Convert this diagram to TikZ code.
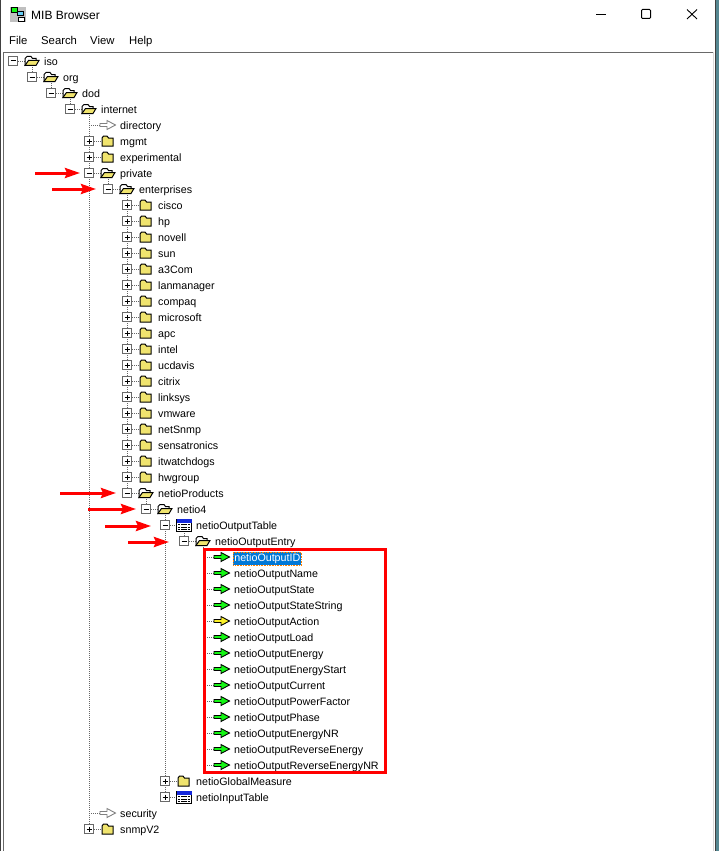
\documentclass[tikz,border=0pt]{standalone}
\usepackage{fontspec}
\setmainfont{Liberation Sans}
\usetikzlibrary{arrows.meta,backgrounds}
\definecolor{folderyellow}{RGB}{240,228,110}
\definecolor{leafgreen}{RGB}{20,245,20}
\definecolor{leafyellow}{RGB}{250,240,40}
\definecolor{selblue}{RGB}{0,120,215}
\definecolor{headblue}{RGB}{20,40,220}
\definecolor{panelgray}{RGB}{105,105,105}
\definecolor{desktop}{RGB}{85,135,145}
\tikzset{
  treeline/.style={black!60,line width=0.9pt,dash pattern=on 1pt off 1pt},
  signbox/.style={draw=panelgray,fill=white,line width=1pt,minimum size=8.5pt,inner sep=0pt},
  lbl/.style={anchor=west,inner xsep=1pt,inner ysep=1pt,text height=8.5pt,text depth=2.5pt,yshift=-1.6pt,font=\fontsize{10.7}{11}\selectfont},
  redarrow/.style={red,line width=3pt,-{Stealth[length=15pt,width=10pt,inset=2pt]}},
  signminus/.pic={\draw[black,line width=1pt] (-2.5,0)--(2.5,0);},
  signplus/.pic={\draw[black,line width=1pt] (-2.5,0)--(2.5,0) (0,-2.5)--(0,2.5);},
  folderclosed/.pic={\draw[black,line width=1pt,fill=folderyellow] (-6,-3)--(-4.5,-5)--(-1,-5)--(0.5,-3)--(5,-3)--(5,5)--(-6,5)--cycle;},
  folderopen/.pic={
    \draw[black,line width=1pt,fill=white] (-7,4.5)--(-7,-2.5)--(-5,-4.5)--(-1,-4.5)--(0.5,-2.5)--(4,-2.5)--(4,0)--cycle;
    \draw[black,line width=1pt,fill=folderyellow] (-7,4.5)--(-3.5,-0.5)--(7,-0.5)--(4,4.5)--cycle;},
  tableicon/.pic={
    \draw[black,line width=1pt,fill=white] (-7.5,-6) rectangle (7.5,6);
    \fill[headblue] (-7.5,-6) rectangle (7.5,-2.5);
    \foreach \gy in {-0.5,2,4.5} {\draw[black,line width=0.9pt,dash pattern=on 2.4pt off 0.8pt] (-6,\gy)--(6.5,\gy);}},
  arrowicon/.pic={\path[pic actions,line width=0.9pt] (-8,-1.5)--(-1,-1.5)--(-1,-4.5)--(7.5,0)--(-1,4.5)--(-1,1.5)--(-8,1.5)--cycle;}
}
\newcommand{\treeitem}[5]{
  \node[signbox] (b-#1) at (#2,{61+16*#3}) {};
  \pic at (b-#1) {#4};
  \coordinate (i-#1) at (#2+19,{61+16*#3});
  \pic at (i-#1) {#5};
  \node[lbl] (t-#1) at (#2+30,{61+16*#3}) {#1};
  \begin{scope}[on background layer]
    \draw[treeline] (b-#1) -- (i-#1);
  \end{scope}
}
\newcommand{\leafitem}[5]{
  \coordinate (b-#1) at (#2,{61+16*#3});
  \coordinate (i-#1) at (#2+19,{61+16*#3});
  \pic[draw=#4,fill=#5] at (i-#1) {arrowicon};
  \node[lbl] (t-#1) at (#2+30,{61+16*#3}) {#1};
  \begin{scope}[on background layer]
    \draw[treeline] (b-#1) -- (i-#1);
  \end{scope}
}
\begin{document}
\begin{tikzpicture}[x=1pt,y=-1pt]
\useasboundingbox (0,0) rectangle (719,851);
\fill[desktop] (715,0) rectangle (719,851);
\draw[black!75,line width=1pt] (715.5,0)--(715.5,851);
\draw[black!75,line width=1.5pt] (0.7,0)--(0.7,851);
\draw[panelgray,line width=1.5pt] (3.5,851)--(3.5,52.5)--(713,52.5);
\draw[black!15,line width=1pt] (713,52.5)--(713,851);
\fill[black!25] (10,7) rectangle (26,22);
\draw[black,fill=leafgreen,line width=0.8pt] (11.5,7.5) rectangle (17,12);
\draw[black,fill=cyan!60,line width=0.8pt] (17,11.5) rectangle (23,15.5);
\draw[black,fill=white,line width=0.8pt] (18,17) rectangle (24,21);
\node[lbl,font=\fontsize{12}{12}\selectfont] (title) at (30,15) {MIB Browser};
\foreach \nm/\xx in {File/8,Search/40,View/89,Help/128} {\node[lbl,font=\fontsize{11.3}{12}\selectfont] (m-\nm) at (\xx,40) {\nm};}
\draw[black,line width=1pt] (596,14.5)--(606,14.5);
\draw[black,line width=1pt,rounded corners=1pt] (641.5,9.5) rectangle (650.5,18.5);
\draw[black,line width=0.9pt] (687,9.5)--(697,19) (697,9.5)--(687,19);
\treeitem{iso}{13}{0}{signminus}{folderopen}
\treeitem{org}{32}{1}{signminus}{folderopen}
\treeitem{dod}{51}{2}{signminus}{folderopen}
\treeitem{internet}{70}{3}{signminus}{folderopen}
\leafitem{directory}{89}{4}{gray}{white}
\treeitem{mgmt}{89}{5}{signplus}{folderclosed}
\treeitem{experimental}{89}{6}{signplus}{folderclosed}
\treeitem{private}{89}{7}{signminus}{folderopen}
\treeitem{enterprises}{108}{8}{signminus}{folderopen}
\foreach \nm/\row in {cisco/9,hp/10,novell/11,sun/12,a3Com/13,lanmanager/14,compaq/15,microsoft/16,apc/17,intel/18,ucdavis/19,citrix/20,linksys/21,vmware/22,netSnmp/23,sensatronics/24,itwatchdogs/25,hwgroup/26} {\treeitem{\nm}{127}{\row}{signplus}{folderclosed}}
\treeitem{netioProducts}{127}{27}{signminus}{folderopen}
\treeitem{netio4}{146}{28}{signminus}{folderopen}
\treeitem{netioOutputTable}{165}{29}{signminus}{tableicon}
\treeitem{netioOutputEntry}{184}{30}{signminus}{folderopen}
\foreach \nm/\row in {netioOutputName/32,netioOutputState/33,netioOutputStateString/34,netioOutputLoad/36,netioOutputEnergy/37,netioOutputEnergyStart/38,netioOutputCurrent/39,netioOutputPowerFactor/40,netioOutputPhase/41,netioOutputEnergyNR/42,netioOutputReverseEnergy/43,netioOutputReverseEnergyNR/44} {\leafitem{\nm}{203}{\row}{black}{leafgreen}}
\leafitem{netioOutputAction}{203}{35}{black}{leafyellow}
\coordinate (b-netioOutputID) at (203,557);
\coordinate (i-netioOutputID) at (222,557);
\pic[draw=black,fill=leafgreen] at (i-netioOutputID) {arrowicon};
\node[lbl,fill=selblue,text=white,draw=orange,densely dotted,line width=0.6pt] (t-netioOutputID) at (233,557) {netioOutputID};
\treeitem{netioGlobalMeasure}{165}{45}{signplus}{folderclosed}
\treeitem{netioInputTable}{165}{46}{signplus}{tableicon}
\leafitem{security}{89}{47}{gray}{white}
\treeitem{snmpV2}{89}{48}{signplus}{folderclosed}
\begin{scope}[on background layer]
\draw[treeline] (b-netioOutputID) -- (i-netioOutputID);
\draw[treeline] (i-iso) -- (b-org);
\draw[treeline] (i-org) -- (b-dod);
\draw[treeline] (i-dod) -- (b-internet);
\draw[treeline] (i-internet) -- (b-snmpV2);
\draw[treeline] (i-private) -- (b-enterprises);
\draw[treeline] (i-enterprises) -- (b-netioProducts);
\draw[treeline] (i-netioProducts) -- (b-netio4);
\draw[treeline] (i-netio4) -- (b-netioInputTable);
\draw[treeline] (i-netioOutputTable) -- (b-netioOutputEntry);
\draw[treeline] (i-netioOutputEntry) -- (b-netioOutputReverseEnergyNR);
\end{scope}
\draw[red,line width=3pt] (204,549) rectangle (385,772.5);
\foreach \nm/\xa/\xb/\yy in {private/35/80/173,enterprises/52/96/189,netioProducts/60/116/493,netio4/88/136/509,netioOutputTable/105/151/526,netioOutputEntry/128/169/542} {
  \coordinate (s-\nm) at (\xa,\yy);
  \coordinate (e-\nm) at (\xb,\yy);
  \draw[redarrow] (s-\nm) -- (e-\nm);
}
\end{tikzpicture}
\end{document}
